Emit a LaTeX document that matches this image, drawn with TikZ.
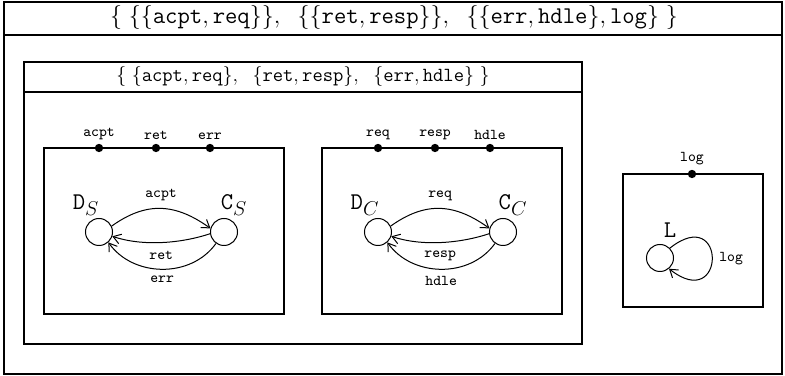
\documentclass[tikz,border=0pt]{standalone}
\usetikzlibrary{arrows.meta}
% larger subscripts for the state names
\DeclareMathSizes{15}{15}{12}{10}
\begin{document}
\begin{tikzpicture}[x=0.6pt,y=0.6pt,
  frame/.style={draw,line width=1.3pt},
  state/.style={draw,circle,line width=0.6pt,minimum size=16.2pt,inner sep=0pt},
  port/.style={fill,circle,minimum size=5pt,inner sep=0pt},
  lbl/.style={font=\fontsize{9}{10}\selectfont\ttfamily,inner sep=1pt},
  ttlA/.style={font=\fontsize{15.2}{17}\selectfont,inner sep=0pt},
  ttlB/.style={font=\fontsize{13.2}{15}\selectfont,inner sep=0pt},
  sname/.style={font=\fontsize{15}{17}\selectfont,inner sep=0pt},
  trans/.style={line width=0.6pt,-{Straight Barb[length=4.5pt,width=6pt]}}]
\useasboundingbox (0,0) rectangle (785,376);

% outer composition
\draw[frame] (4,2) rectangle (782,374);
\draw[frame] (4,341) -- (782,341);
\node[ttlA] (t0) at (394,358) {$\{\;\{\{\mathtt{acpt},\mathtt{req}\}\},\;\;\{\{\mathtt{ret},\mathtt{resp}\}\},\;\;\{\{\mathtt{err},\mathtt{hdle}\},\mathtt{log}\}\;\}$};

% inner composition
\draw[frame] (24,32) rectangle (582,314);
\draw[frame] (24,284) -- (582,284);
\node[ttlB] (t1) at (303,299) {$\{\;\{\mathtt{acpt},\mathtt{req}\},\;\;\{\mathtt{ret},\mathtt{resp}\},\;\;\{\mathtt{err},\mathtt{hdle}\}\;\}$};

% server component
\draw[frame] (44,62) rectangle (284,228);
\node[port] (ps1) at (99,228) {};
\node[port] (ps2) at (156,228) {};
\node[port] (ps3) at (210,228) {};
\node[lbl,above=4pt] (ls1) at (ps1) {acpt};
\node[lbl,above=4pt] (ls2) at (ps2) {ret};
\node[lbl,above=4pt] (ls3) at (ps3) {err};
\node[state] (ds) at (99,144) {};
\node[state] (cs) at (224,144) {};
\node[sname] (nds) at (86,171) {$\mathtt{D}_S$};
\node[sname] (ncs) at (234,171) {$\mathtt{C}_S$};
\draw[trans] (ds.25) .. controls +(35,25) and +(-35,25) .. node[lbl,above=3pt] {acpt} (cs.165);
\draw[trans] (cs.187) .. controls +(-30,-10) and +(30,-10) .. node[lbl,below=4pt] {ret} (ds.-18);
\draw[trans] (cs.-125) .. controls +(-25,-35) and +(25,-35) .. node[lbl,below=3pt] {err} (ds.-48);

% client component
\draw[frame] (322,62) rectangle (562,228);
\node[port] (pc1) at (378,228) {};
\node[port] (pc2) at (435,228) {};
\node[port] (pc3) at (490,228) {};
\node[lbl,above=4pt] (lc1) at (pc1) {req};
\node[lbl,above=4pt] (lc2) at (pc2) {resp};
\node[lbl,above=4pt] (lc3) at (pc3) {hdle};
\node[state] (dc) at (378,144) {};
\node[state] (cc) at (503,144) {};
\node[sname] (ndc) at (365,171) {$\mathtt{D}_C$};
\node[sname] (ncc) at (513,171) {$\mathtt{C}_C$};
\draw[trans] (dc.25) .. controls +(35,25) and +(-35,25) .. node[lbl,above=3pt] {req} (cc.165);
\draw[trans] (cc.187) .. controls +(-30,-10) and +(30,-10) .. node[lbl,below=4pt] {resp} (dc.-18);
\draw[trans] (cc.-125) .. controls +(-25,-35) and +(25,-35) .. node[lbl,below=3pt] {hdle} (dc.-48);

% logger component
\draw[frame] (623,69) rectangle (763,202);
\node[port] (pl) at (692,202) {};
\node[lbl,above=4pt] (ll) at (pl) {log};
\node[state] (l) at (660,118) {};
\node[sname] (nl) at (670,146) {$\mathtt{L}$};
\draw[trans] (l.45) .. controls +(57,45) and +(57,-45) .. node[lbl,right=3pt] {log} (l.-50);
\end{tikzpicture}
\end{document}
